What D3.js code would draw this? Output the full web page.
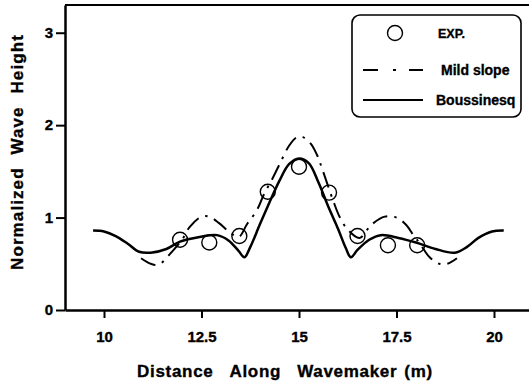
<!DOCTYPE html>
<html>
<head>
<meta charset="utf-8">
<script src="https://cdn.jsdelivr.net/npm/d3@7"></script>
<style>
  body { margin: 0; background: #fff; }
  text { font-family: "Liberation Sans", Arial, sans-serif; font-weight: bold; fill: #000; stroke: #000; stroke-width: 0.35px; }
</style>
</head>
<body>
<div id="chart-area"></div>
<script>
// Boussinesq model (solid)
var boussX = [9.72, 10.0, 10.3, 10.6, 10.9, 11.2, 11.6, 11.95, 12.45, 12.9, 13.2, 13.45, 13.6,
              13.75, 14.0, 14.25, 14.5, 14.75, 15.0, 15.25, 15.5, 15.75, 16.0, 16.2, 16.33,
              16.5, 16.8, 17.1, 17.55, 18.0, 18.5, 19.0, 19.3, 19.6, 19.95, 20.25];
var boussY = [0.86, 0.85, 0.80, 0.72, 0.63, 0.62, 0.66, 0.74, 0.79, 0.81, 0.75, 0.64, 0.57,
              0.68, 0.93, 1.17, 1.40, 1.58, 1.64, 1.59, 1.38, 1.12, 0.88, 0.67, 0.57,
              0.65, 0.76, 0.81, 0.78, 0.73, 0.66, 0.62, 0.68, 0.78, 0.85, 0.86];

// Mild slope model (dash-dot)
var mildX = [10.95, 11.2, 11.4, 11.7, 12.0, 12.2, 12.5, 12.7, 12.95, 13.2, 13.45, 13.67, 13.92,
             14.1, 14.33, 14.55, 14.75, 14.95, 15.1, 15.3, 15.46, 15.6, 15.87, 16.05, 16.25,
             16.55, 16.85, 17.2, 17.5, 17.75, 17.95, 18.1, 18.35, 18.6, 18.8, 19.05];
var mildY = [0.56, 0.50, 0.49, 0.61, 0.76, 0.90, 1.01, 1.01, 0.94, 0.85, 0.79, 0.93, 1.08,
             1.25, 1.43, 1.62, 1.78, 1.87, 1.87, 1.80, 1.68, 1.52, 1.19, 1.00, 0.87,
             0.78, 0.92, 1.01, 1.00, 0.92, 0.80, 0.72, 0.57, 0.50, 0.50, 0.56];

// Experiment (circles)
var expX = [11.95, 12.7, 13.47, 14.2, 15.0, 15.77, 16.5, 17.28, 18.03];
var expY = [0.76, 0.73, 0.80, 1.28, 1.55, 1.27, 0.80, 0.70, 0.70];

var xTicks = [10, 12.5, 15, 17.5, 20];
var yTicks = [0, 1, 2, 3];
var legendLabels = ["EXP.", "Mild slope", "Boussinesq"];

var width = 529, height = 381;

var svg = d3.select("#chart-area")
    .append("svg")
        .attr("width", width)
        .attr("height", height);

// Scales
var x = d3.scaleLinear()
    .domain([9, 21])
    .range([65, 533]);
var y = d3.scaleLinear()
    .domain([0, 3.3])
    .range([310, 5]);

// Frame top / right
svg.append("path")
    .attr("d", "M" + x(9) + "," + y(3.3) + "H" + x(21) + "V" + y(0))
    .attr("fill", "none")
    .attr("stroke", "#000")
    .attr("stroke-width", 2);

// X Axis
var xAxisCall = d3.axisBottom(x)
    .tickValues(xTicks)
    .tickSizeInner(8)
    .tickSizeOuter(0)
    .tickPadding(13)
    .tickFormat(function(d){ return d; });
var xAxis = svg.append("g")
    .attr("transform", "translate(0," + y(0) + ")")
    .call(xAxisCall);

// Y Axis
var yAxisCall = d3.axisLeft(y)
    .tickValues(yTicks)
    .tickSizeInner(9)
    .tickSizeOuter(0)
    .tickPadding(3)
    .tickFormat(d3.format("d"));
var yAxis = svg.append("g")
    .attr("transform", "translate(" + x(9) + ",0)")
    .call(yAxisCall);

[xAxis, yAxis].forEach(function(a) {
    a.select(".domain").attr("stroke-width", 2.5);
    a.selectAll(".tick line").attr("stroke-width", 2);
    a.selectAll(".tick text")
        .attr("font-size", "15px")
        .attr("font-family", "Liberation Sans, Arial, sans-serif")
        .attr("font-weight", "bold");
});

// Lines
var boussData = boussX.map(function(d, i){ return [d, boussY[i]]; });
var mildData = mildX.map(function(d, i){ return [d, mildY[i]]; });

var line = d3.line()
    .x(function(d){ return x(d[0]); })
    .y(function(d){ return y(d[1]); })
    .curve(d3.curveCatmullRom.alpha(0.5));

svg.append("path")
    .datum(mildData)
    .attr("d", line)
    .attr("fill", "none")
    .attr("stroke", "#000")
    .attr("stroke-width", 2)
    .attr("stroke-dasharray", "16,7,2.5,7");

svg.append("path")
    .datum(boussData)
    .attr("d", line)
    .attr("fill", "none")
    .attr("stroke", "#000")
    .attr("stroke-width", 2.5);

// Experimental points
svg.selectAll("circle.exp")
    .data(expX)
    .enter()
    .append("circle")
    .attr("class", "exp")
    .attr("cx", function(d){ return x(d); })
    .attr("cy", function(d, i){ return y(expY[i]); })
    .attr("r", 7.5)
    .attr("fill", "none")
    .attr("stroke", "#000")
    .attr("stroke-width", 1.4);

// Axis labels
var xLabel = svg.append("text")
    .attr("x", 137)
    .attr("y", 377)
    .attr("font-size", "17px")
    .attr("letter-spacing", "0.7px");
xLabel.append("tspan").text("Distance");
xLabel.append("tspan").attr("dx", 16).text("Along");
xLabel.append("tspan").attr("dx", 16).text("Wavemaker");
xLabel.append("tspan").attr("dx", 7).text("(m)");

var yLabel = svg.append("text")
    .attr("transform", "translate(23,152) rotate(-90)")
    .attr("text-anchor", "middle")
    .attr("font-size", "17px")
    .attr("letter-spacing", "1.1px")
    .attr("word-spacing", "7px")
    .text("Normalized Wave Height");

// Legend
var legend = svg.append("g");
legend.append("rect")
    .attr("x", 352)
    .attr("y", 15)
    .attr("width", 169)
    .attr("height", 102)
    .attr("rx", 8)
    .attr("fill", "#fff")
    .attr("stroke", "#000")
    .attr("stroke-width", 1.6);

legend.append("circle")
    .attr("cx", 395)
    .attr("cy", 33)
    .attr("r", 7.5)
    .attr("fill", "none")
    .attr("stroke", "#000")
    .attr("stroke-width", 1.4);
legend.append("line")
    .attr("x1", 363).attr("x2", 423)
    .attr("y1", 70).attr("y2", 70)
    .attr("stroke", "#000")
    .attr("stroke-width", 2)
    .attr("stroke-dasharray", "15,15,3,13,15");
legend.append("line")
    .attr("x1", 363).attr("x2", 423)
    .attr("y1", 100).attr("y2", 100)
    .attr("stroke", "#000")
    .attr("stroke-width", 2);

var legendX = [438, 441, 436];
var legendY = [33, 70, 100];
legendLabels.forEach(function(lab, i) {
    legend.append("text")
        .attr("x", legendX[i])
        .attr("y", legendY[i])
        .attr("dy", "0.36em")
        .attr("font-size", i == 0 ? "12.5px" : "14px")
        .text(lab);
});
</script>
</body>
</html>
